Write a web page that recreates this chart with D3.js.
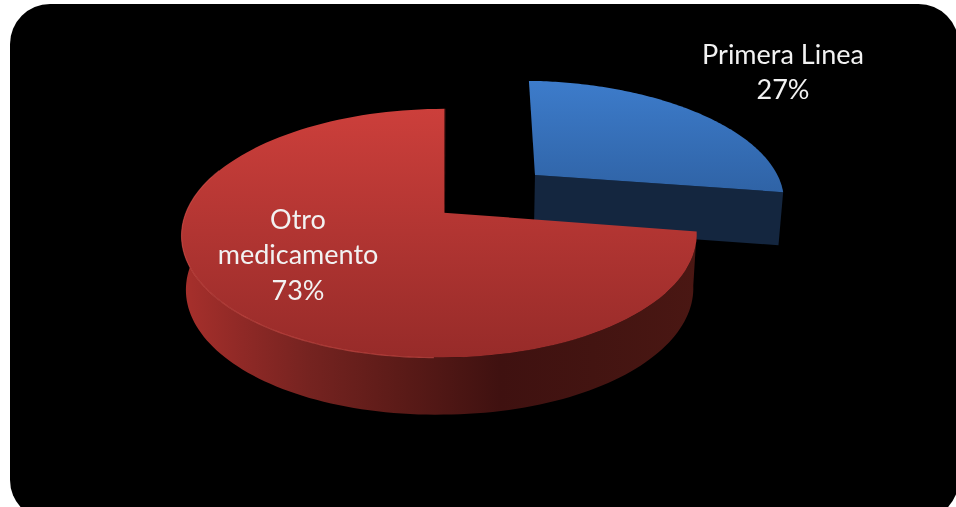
<!DOCTYPE html>
<html>
<head>
<meta charset="utf-8">
<script src="https://cdnjs.cloudflare.com/ajax/libs/d3/7.8.5/d3.min.js"></script>
<style>
html,body{margin:0;padding:0;background:#fff;overflow:hidden}
svg{display:block}
text{font-family:Lato,"Open Sans",sans-serif;fill:#f2f2f2;text-anchor:middle}
</style>
</head>
<body>
<svg id="chart" width="956" height="507"></svg>
<script>
const categories = ["Primera Linea", "Otro medicamento"];
const values = [27, 73];
const labelLines = [["Primera Linea", "27%"], ["Otro", "medicamento", "73%"]];

const W = 956, H = 507;
const svg = d3.select("#chart");
const defs = svg.append("defs");

defs.append("filter").attr("id", "soft").attr("x", "-5%").attr("y", "-5%").attr("width", "110%").attr("height", "110%")
  .append("feGaussianBlur").attr("stdDeviation", 0.4);

function vGrad(id, y1, y2, c1, c2) {
  const g = defs.append("linearGradient").attr("id", id).attr("gradientUnits", "userSpaceOnUse")
    .attr("x1", 0).attr("x2", 0).attr("y1", y1).attr("y2", y2);
  g.append("stop").attr("offset", 0).attr("stop-color", c1);
  g.append("stop").attr("offset", 1).attr("stop-color", c2);
}
vGrad("blueTop", 80, 192, "#3d7ccb", "#2f63a6");
vGrad("redTop", 108, 357, "#cc3f3b", "#972b29");
const wall = defs.append("linearGradient").attr("id", "redWall").attr("gradientUnits", "userSpaceOnUse")
  .attr("x1", 181).attr("x2", 696).attr("y1", 0).attr("y2", 0);
[[0, "#a8302c"], [0.12, "#8f2926"], [0.25, "#752320"], [0.42, "#5c1b18"], [0.62, "#3f1110"], [0.8, "#431411"], [1, "#4a1713"]]
  .forEach(s => wall.append("stop").attr("offset", s[0]).attr("stop-color", s[1]));

svg.append("rect").attr("x", 10).attr("y", 4).attr("width", 948.6).attr("height", 516)
  .attr("rx", 40).attr("ry", 40).attr("fill", "#000");

// perspective projection of the pie plane
const vx = 471, cy0 = 212.7, Ry = 121, k = 0.165, Rx = 254, cx0 = -31;
const project = (x, y) => {
  const d = 1 - k * y;
  return [vx + (Rx * x + cx0) / d, cy0 + Ry * y / d];
};
const lower = p => [vx + (p[0] - vx) * 0.985, p[1] + 53 + (p[1] - 190) * 0.024];

const offsets = [[0.4, -0.328], [0, 0]];
const apexNudge = [-3, 4];
const shear = 0.013;
const arcs = d3.pie().sort(null)(values);
const apexOf = i => {
  const p = project(offsets[i][0], offsets[i][1]);
  return [p[0] + apexNudge[i], p[1]];
};
const ptAt = (i, a) => {
  const p = project(offsets[i][0] + Math.sin(a), offsets[i][1] - Math.cos(a));
  const ax = apexOf(i)[0];
  return [p[0], p[1] + Math.max(0, p[0] - ax) * shear];
};
const arcPts = (i, a0, a1) => d3.range(0, 121).map(t => ptAt(i, a0 + (a1 - a0) * t / 120));
const line = d3.line();

const blue = arcs[0], red = arcs[1];
const blueApex = apexOf(0);
const redApex = apexOf(1);
const blueOuter = arcPts(0, blue.startAngle, blue.endAngle);
const redOuter = arcPts(1, red.startAngle, red.endAngle);

const pie3d = svg.append("g");

// blue: walls then top
const blueEnd = blueOuter[blueOuter.length - 1];
pie3d.append("path").attr("fill", "#14263f")
  .attr("d", line([blueApex, blueEnd, lower(blueEnd), lower(blueApex)]) + "Z");
pie3d.append("path").attr("fill", "url(#blueTop)")
  .attr("d", line([blueApex, ...blueOuter]) + "Z");

// red: thin inner wall, outer wall, top
const redTip = redOuter[redOuter.length - 1];
pie3d.append("path").attr("fill", "#5a1a17")
  .attr("d", line([redApex, redTip, [redTip[0] + 1, redTip[1]], [redApex[0] + 1, redApex[1] + 5]]) + "Z");
const frontWall = arcPts(1, red.startAngle, Math.PI * 1.6);
pie3d.append("path").attr("fill", "url(#redWall)")
  .attr("d", line([...frontWall, ...frontWall.slice().reverse().map(lower)]) + "Z");
pie3d.append("path").attr("fill", "url(#redTop)")
  .attr("d", line([redApex, ...redOuter]) + "Z");
pie3d.append("path").attr("fill", "none").attr("stroke", "#d9534e").attr("stroke-opacity", 0.55).attr("stroke-width", 1.2)
  .attr("d", line(arcPts(1, Math.PI * 1.0, Math.PI * 1.62)));

// labels
const labelPos = [{ x: 783, y: [64, 99] }, { x: 298, y: [229, 264, 300] }];
labelLines.forEach((lines, i) => {
  svg.append("g").attr("data-category", categories[i]).attr("filter", "url(#soft)")
    .selectAll("text").data(lines).join("text")
    .attr("x", labelPos[i].x)
    .attr("y", (d, j) => labelPos[i].y[j])
    .attr("font-size", 27)
    .text(d => d);
});
</script>
</body>
</html>
